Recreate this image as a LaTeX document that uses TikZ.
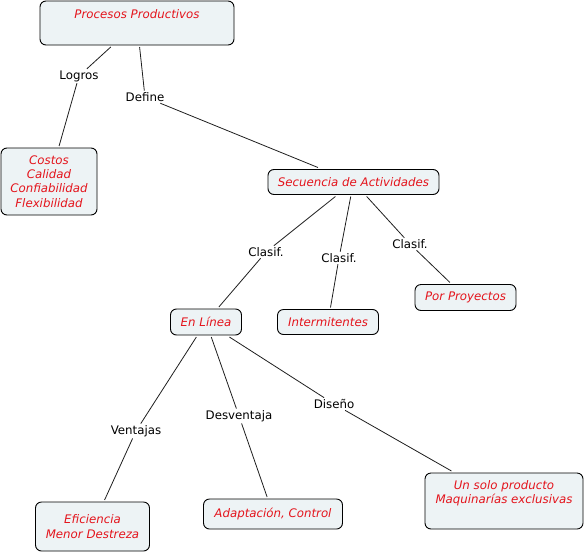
\documentclass[tikz,border=0pt]{standalone}
\usepackage{fontspec}
\setmainfont{DejaVu Sans}
\definecolor{boxfill}{RGB}{237,243,245}
\definecolor{boxtext}{RGB}{228,20,28}
\definecolor{linkc}{RGB}{30,30,30}
\begin{document}
\begin{tikzpicture}[x=1pt,y=-1pt,
  concept/.style={draw=black,line width=0.9pt,fill=boxfill,rounded corners=6pt,
    text=boxtext,font=\fontsize{11.8}{14.3}\selectfont\itshape,align=center,
    inner sep=0pt,outer sep=2pt},
  linklabel/.style={font=\fontsize{11.8}{14}\selectfont,text=black,inner sep=1.5pt},
  link/.style={draw=linkc,line width=0.8pt}]
\useasboundingbox (0,0) rectangle (585,554);
% concepts
\node[concept,minimum width=194pt,text height=17pt,text depth=27pt] (pp) at (137,23) {Procesos Productivos};
\node[concept,minimum width=96pt,minimum height=67pt] (costos) at (49,181.5) {Costos\\Calidad\\Confiabilidad\\Flexibilidad};
\node[concept,minimum width=171pt,minimum height=25pt] (sec) at (353.5,182) {Secuencia de Actividades};
\node[concept,minimum width=71pt,minimum height=26pt] (el) at (206,322) {En Línea};
\node[concept,minimum width=101pt,minimum height=25pt] (inter) at (328,322) {Intermitentes};
\node[concept,minimum width=101pt,minimum height=26pt] (proy) at (465.5,297.5) {Por Proyectos};
\node[concept,minimum width=114pt,minimum height=49pt] (efi) at (92.5,526.5) {Eficiencia\\Menor Destreza};
\node[concept,minimum width=139pt,minimum height=30pt] (adap) at (273,514) {Adaptación, Control};
\node[concept,minimum width=158pt,minimum height=56pt] (unsolo) at (504,501) {Un solo producto\\Maquinarías exclusivas\\\strut};
% link labels
\node[linklabel] (logros) at (79,76) {Logros};
\node[linklabel] (define) at (145,97) {Define};
\node[linklabel] (c1) at (266,252) {Clasif.};
\node[linklabel] (c2) at (339,258) {Clasif.};
\node[linklabel] (c3) at (410,244) {Clasif.};
\node[linklabel] (vent) at (136,431) {Ventajas};
\node[linklabel] (desv) at (239,416) {Desventaja};
\node[linklabel] (dis) at (334,404) {Diseño};
% connectors
\draw[link] (pp) -- (logros);
\draw[link] (logros) -- (costos);
\draw[link] (pp) -- (define);
\draw[link] (define) -- (sec);
\draw[link] (sec) -- (c1);
\draw[link] (c1) -- (el);
\draw[link] (sec) -- (c2);
\draw[link] (c2) -- (inter);
\draw[link] (sec) -- (c3);
\draw[link] (c3) -- (proy);
\draw[link] (el) -- (vent);
\draw[link] (vent) -- (efi);
\draw[link] (el) -- (desv);
\draw[link] (desv) -- (adap);
\draw[link] (el) -- (dis);
\draw[link] (dis) -- (unsolo);
\end{tikzpicture}
\end{document}
